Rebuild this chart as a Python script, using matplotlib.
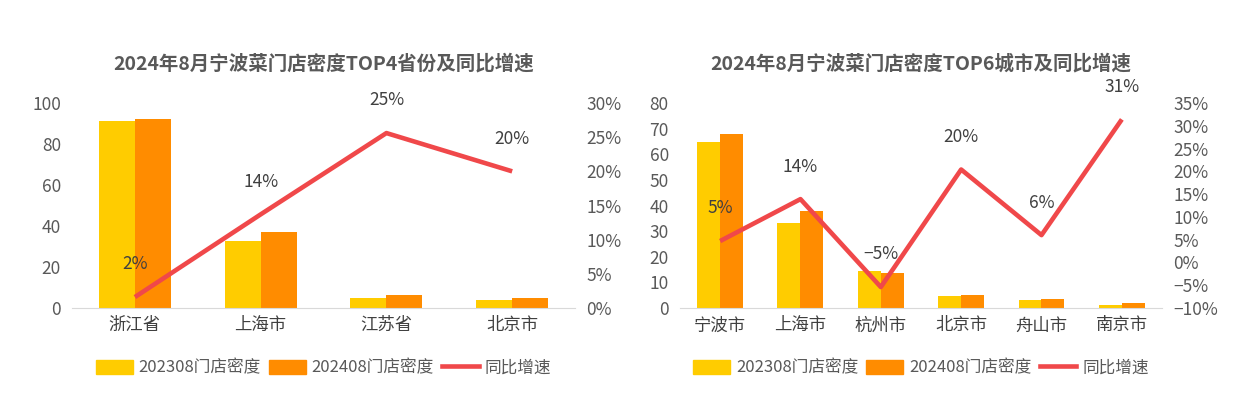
import numpy as np
import matplotlib
matplotlib.use("Agg")
import matplotlib.pyplot as plt
from matplotlib.patches import Patch
from matplotlib.lines import Line2D

plt.rcParams['font.family'] = ['Noto Sans CJK SC', 'DejaVu Sans']
plt.rcParams['axes.unicode_minus'] = True

# left chart data
prov_names = ['浙江省', '上海市', '江苏省', '北京市']
prov_2023 = [91.2, 32.7, 5.0, 3.9]
prov_2024 = [92.2, 37.0, 6.3, 5.0]
prov_growth = [0.016, 0.137, 0.256, 0.200]
prov_labels = ['2%', '14%', '25%', '20%']

# right chart data
city_names = ['宁波市', '上海市', '杭州市', '北京市', '舟山市', '南京市']
city_2023 = [64.9, 33.0, 14.5, 4.5, 3.2, 1.3]
city_2024 = [68.0, 37.8, 13.8, 5.2, 3.7, 2.1]
city_growth = [0.047, 0.139, -0.054, 0.204, 0.060, 0.314]
city_labels = ['5%', '14%', '−5%', '20%', '6%', '31%']

YELLOW = '#FFCC00'
ORANGE = '#FF8C00'
RED = '#F0484A'
TXT = '#595959'
LBL = '#404040'


def draw(fig, rect, title, names, v23, v24, growth, glabels,
         ylim, yticks, rlim, rticks):
    ax = fig.add_axes(rect)
    x = np.arange(len(names))
    w = 0.286
    ax.bar(x - w / 2, v23, w, color=YELLOW, zorder=2)
    ax.bar(x + w / 2, v24, w, color=ORANGE, zorder=2)
    ax.set_xlim(-0.5, len(names) - 0.5)
    ax.set_ylim(*ylim)
    ax.set_yticks(yticks)
    ax.set_xticks(x)
    ax.set_xticklabels(names)
    for s in ['top', 'right', 'left']:
        ax.spines[s].set_visible(False)
    ax.spines['bottom'].set_color('#D9D9D9')
    ax.tick_params(axis='both', length=0, labelsize=12.5, colors=TXT)
    ax.tick_params(axis='x', pad=6, colors=LBL)
    ax.tick_params(axis='y', pad=8)

    ax2 = ax.twinx()
    ax2.plot(x, growth, color=RED, linewidth=3.3, solid_capstyle='butt', zorder=3)
    ax2.set_ylim(*rlim)
    ax2.set_yticks(rticks)
    ax2.set_yticklabels(['%d%%' % round(t * 100) if t >= 0 else '−%d%%' % round(-t * 100) for t in rticks])
    for s in ax2.spines.values():
        s.set_visible(False)
    ax2.tick_params(axis='y', length=0, labelsize=12.5, colors=TXT, pad=8)
    for xi, g, lab in zip(x, growth, glabels):
        ax2.annotate(lab, (xi, g), xytext=(0, 17), textcoords='offset points',
                     ha='center', va='bottom', fontsize=12.5, color=LBL)
    cx = rect[0] + rect[2] / 2
    fig.text(cx, 0.848, title, ha='center', va='center', fontsize=14,
             fontweight='bold', color=TXT)
    handles = [Patch(color=YELLOW), Patch(color=ORANGE),
               Line2D([0], [0], color=RED, linewidth=3.3)]
    fig.legend(handles, ['202308门店密度', '202408门店密度', '同比增速'],
               loc='center', bbox_to_anchor=(cx, 0.115), ncol=3, frameon=False,
               fontsize=12, labelcolor=TXT, handlelength=2.2, handleheight=0.9,
               handletextpad=0.35, columnspacing=0.5)


fig = plt.figure(figsize=(12.55, 4.16), dpi=100)
draw(fig, [0.0574, 0.2596, 0.4008, 0.4928], '2024年8月宁波菜门店密度TOP4省份及同比增速',
     prov_names, prov_2023, prov_2024, prov_growth, prov_labels,
     (0, 100), np.arange(0, 101, 20), (0, 0.30), np.arange(0, 0.301, 0.05))
draw(fig, [0.5418, 0.2596, 0.3841, 0.4928], '2024年8月宁波菜门店密度TOP6城市及同比增速',
     city_names, city_2023, city_2024, city_growth, city_labels,
     (0, 80), np.arange(0, 81, 10), (-0.10, 0.35), np.arange(-0.10, 0.351, 0.05))
fig.savefig('out.png', dpi=100)
